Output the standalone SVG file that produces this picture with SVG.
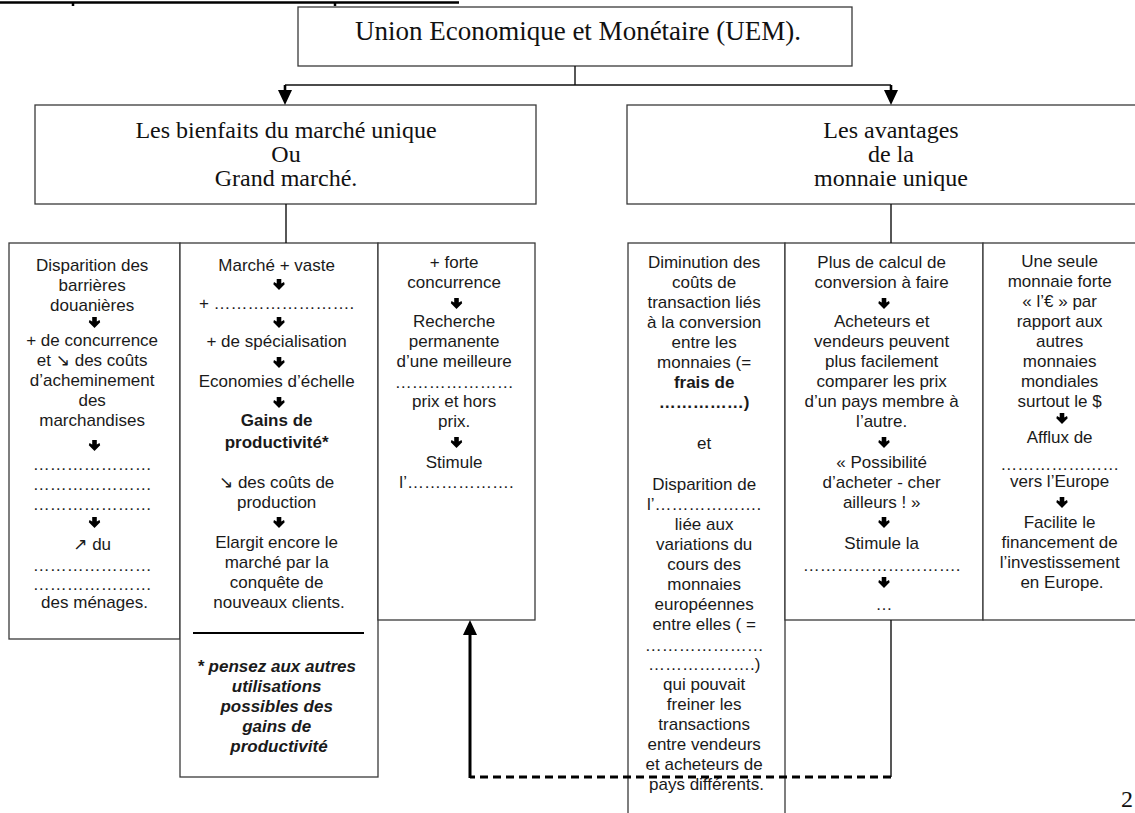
<svg xmlns="http://www.w3.org/2000/svg" xmlns:xlink="http://www.w3.org/1999/xlink" width="1135" height="813" viewBox="0 0 1135 813">
<style>
.bx{fill:#fff;stroke:#3a3a3a;stroke-width:1.3}
.t{font-family:"Liberation Sans",Arial,"DejaVu Sans",sans-serif;font-size:17px;fill:#1a1a1a;text-anchor:middle}
.b{font-weight:bold}
.bi{font-weight:bold;font-style:italic}
.h{font-family:"Liberation Serif","Times New Roman",serif;font-size:24px;fill:#111;text-anchor:middle}
.ttl{font-size:27px}
.ln{fill:none;stroke:#111;stroke-width:1.4}
.thk{fill:none;stroke:#000;stroke-width:2.6}
.dsh{fill:none;stroke:#000;stroke-width:3;stroke-dasharray:8 5}
</style>
<defs>
<path id="da" d="M-2.3,0H2.3V4.6L5,3.1L5.7,5.2L0,10.9L-5.7,5.2L-5,3.1L-2.3,4.6Z" fill="#000"/>
<marker id="ah" viewBox="0 0 15 14" refX="2" refY="7" markerWidth="15" markerHeight="14" orient="auto" markerUnits="userSpaceOnUse">
<path d="M0,0L15,7L0,14Z" fill="#000"/>
</marker>
</defs>
<rect width="1135" height="813" fill="#fff"/>

<g id="top-rule">
<path d="M0,2.5H459M73,2.5V6M335,2.5V6" fill="none" stroke="#000" stroke-width="2.5"/>
</g>

<g id="uem">
<rect class="bx" x="298" y="7" width="554" height="59"/>
<text class="h ttl" x="578" y="40">Union Economique et Monétaire (UEM).</text>
</g>

<g id="marche-unique">
<rect class="bx" x="35" y="105" width="501" height="99"/>
<text class="h"><tspan x="286" y="138">Les bienfaits du marché unique</tspan><tspan x="286" y="162">Ou</tspan><tspan x="286" y="186">Grand marché.</tspan></text>
</g>

<g id="monnaie-unique">
<rect class="bx" x="627" y="105" width="520" height="99"/>
<text class="h"><tspan x="891" y="138">Les avantages</tspan><tspan x="891" y="162">de la</tspan><tspan x="891" y="186">monnaie unique</tspan></text>
</g>

<g id="col-barrieres">
<rect class="bx" x="9" y="243" width="171" height="396"/>
<text class="t">
<tspan x="94.5" y="271">Disparition des</tspan>
<tspan x="94.5" y="291">barrières</tspan>
<tspan x="94.5" y="311">douanières</tspan>
<tspan x="94.5" y="346">+ de concurrence</tspan>
<tspan x="94.5" y="366">et ↘ des coûts</tspan>
<tspan x="94.5" y="386">d’acheminement</tspan>
<tspan x="94.5" y="406">des</tspan>
<tspan x="94.5" y="426">marchandises</tspan>
<tspan x="94.5" y="470">…………………</tspan>
<tspan x="94.5" y="490">…………………</tspan>
<tspan x="94.5" y="510">…………………</tspan>
<tspan x="94.5" y="550">↗ du</tspan>
<tspan x="94.5" y="571">…………………</tspan>
<tspan x="94.5" y="590">…………………</tspan>
<tspan x="94.5" y="608">des ménages.</tspan>
</text>
<use href="#da" xlink:href="#da" x="94.5" y="317"/>
<use href="#da" xlink:href="#da" x="94.5" y="440"/>
<use href="#da" xlink:href="#da" x="94.5" y="517"/>
</g>

<g id="col-marche-vaste">
<rect class="bx" x="180" y="243" width="198" height="534"/>
<text class="t">
<tspan x="279" y="271">Marché + vaste</tspan>
<tspan x="279" y="309">+ …………………….</tspan>
<tspan x="279" y="347">+ de spécialisation</tspan>
<tspan x="279" y="387">Economies d’échelle</tspan>
<tspan x="279" y="426" class="b">Gains de</tspan>
<tspan x="279" y="448" class="b">productivité*</tspan>
<tspan x="279" y="488">↘ des coûts de</tspan>
<tspan x="279" y="508">production</tspan>
<tspan x="279" y="548">Elargit encore le</tspan>
<tspan x="279" y="568">marché par la</tspan>
<tspan x="279" y="588">conquête de</tspan>
<tspan x="279" y="608">nouveaux clients.</tspan>
</text>
<use href="#da" xlink:href="#da" x="279" y="279"/>
<use href="#da" xlink:href="#da" x="279" y="317"/>
<use href="#da" xlink:href="#da" x="279" y="357"/>
<use href="#da" xlink:href="#da" x="279" y="397"/>
<use href="#da" xlink:href="#da" x="279" y="517"/>
<path d="M193,633H364" stroke="#000" stroke-width="2" fill="none"/>
<text class="t bi">
<tspan x="279" y="672">* pensez aux autres</tspan>
<tspan x="279" y="692">utilisations</tspan>
<tspan x="279" y="712">possibles des</tspan>
<tspan x="279" y="732">gains de</tspan>
<tspan x="279" y="752">productivité</tspan>
</text>
</g>

<g id="col-concurrence">
<rect class="bx" x="378" y="243" width="157" height="377"/>
<text class="t">
<tspan x="456.5" y="268">+ forte</tspan>
<tspan x="456.5" y="288">concurrence</tspan>
<tspan x="456.5" y="327">Recherche</tspan>
<tspan x="456.5" y="347">permanente</tspan>
<tspan x="456.5" y="367">d’une meilleure</tspan>
<tspan x="456.5" y="388">…………………</tspan>
<tspan x="456.5" y="407">prix et hors</tspan>
<tspan x="456.5" y="427">prix.</tspan>
<tspan x="456.5" y="468">Stimule</tspan>
<tspan x="456.5" y="488">l’……………….</tspan>
</text>
<use href="#da" xlink:href="#da" x="456.5" y="298"/>
<use href="#da" xlink:href="#da" x="456.5" y="437"/>
</g>

<g id="col-couts-transaction">
<rect class="bx" x="628" y="243" width="157" height="590"/>
<text class="t">
<tspan x="706.5" y="268">Diminution des</tspan>
<tspan x="706.5" y="288">coûts de</tspan>
<tspan x="706.5" y="308">transaction liés</tspan>
<tspan x="706.5" y="328">à la conversion</tspan>
<tspan x="706.5" y="348">entre les</tspan>
<tspan x="706.5" y="368">monnaies (=</tspan>
<tspan x="706.5" y="388" class="b">frais de</tspan>
<tspan x="706.5" y="408" class="b">……………)</tspan>
<tspan x="706.5" y="449">et</tspan>
<tspan x="706.5" y="490">Disparition de</tspan>
<tspan x="706.5" y="510">l’……………….</tspan>
<tspan x="706.5" y="530">liée aux</tspan>
<tspan x="706.5" y="550">variations du</tspan>
<tspan x="706.5" y="570">cours des</tspan>
<tspan x="706.5" y="590">monnaies</tspan>
<tspan x="706.5" y="610">européennes</tspan>
<tspan x="706.5" y="630">entre elles ( =</tspan>
<tspan x="706.5" y="651">…………………</tspan>
<tspan x="706.5" y="670">……………….)</tspan>
<tspan x="706.5" y="690">qui pouvait</tspan>
<tspan x="706.5" y="710">freiner les</tspan>
<tspan x="706.5" y="730">transactions</tspan>
<tspan x="706.5" y="750">entre vendeurs</tspan>
<tspan x="706.5" y="770">et acheteurs de</tspan>
<tspan x="706.5" y="790">pays différents.</tspan>
</text>
</g>

<g id="col-conversion">
<rect class="bx" x="785" y="243" width="198" height="377"/>
<text class="t">
<tspan x="884" y="268">Plus de calcul de</tspan>
<tspan x="884" y="288">conversion à faire</tspan>
<tspan x="884" y="327">Acheteurs et</tspan>
<tspan x="884" y="347">vendeurs peuvent</tspan>
<tspan x="884" y="367">plus facilement</tspan>
<tspan x="884" y="387">comparer les prix</tspan>
<tspan x="884" y="407">d’un pays membre à</tspan>
<tspan x="884" y="427">l’autre.</tspan>
<tspan x="884" y="468">« Possibilité</tspan>
<tspan x="884" y="488">d’acheter - cher</tspan>
<tspan x="884" y="508">ailleurs ! »</tspan>
<tspan x="884" y="549">Stimule la</tspan>
<tspan x="884" y="571">……………………….</tspan>
<tspan x="884" y="610">…</tspan>
</text>
<use href="#da" xlink:href="#da" x="884" y="298"/>
<use href="#da" xlink:href="#da" x="884" y="437"/>
<use href="#da" xlink:href="#da" x="884" y="517"/>
<use href="#da" xlink:href="#da" x="884" y="577"/>
</g>

<g id="col-monnaie-forte">
<rect class="bx" x="983" y="243" width="165" height="377"/>
<text class="t">
<tspan x="1062" y="267">Une seule</tspan>
<tspan x="1062" y="287">monnaie forte</tspan>
<tspan x="1062" y="307">« l’€ » par</tspan>
<tspan x="1062" y="327">rapport aux</tspan>
<tspan x="1062" y="347">autres</tspan>
<tspan x="1062" y="367">monnaies</tspan>
<tspan x="1062" y="387">mondiales</tspan>
<tspan x="1062" y="407">surtout le $</tspan>
<tspan x="1062" y="443">Afflux de</tspan>
<tspan x="1062" y="470">…………………</tspan>
<tspan x="1062" y="487">vers l’Europe</tspan>
<tspan x="1062" y="528">Facilite le</tspan>
<tspan x="1062" y="548">financement de</tspan>
<tspan x="1062" y="568">l’investissement</tspan>
<tspan x="1062" y="588">en Europe.</tspan>
</text>
<use href="#da" xlink:href="#da" x="1062" y="413"/>
<use href="#da" xlink:href="#da" x="1062" y="497"/>
</g>

<g id="page-number">
<text class="h" x="1121" y="807" style="text-anchor:start">2</text>
</g>

<g id="connectors">
<path class="ln" d="M575,66V85M285,85H891"/>
<path class="thk" d="M285,85V92" marker-end="url(#ah)"/>
<path class="thk" d="M891,85V92" marker-end="url(#ah)"/>
<path class="ln" d="M286,204V243M891,204V243"/>
<path class="ln" d="M891,620V777" stroke="#444"/>
<path class="dsh" d="M891,777H470"/>
<path d="M470,778V633" fill="none" stroke="#000" stroke-width="3" marker-end="url(#ah)"/>
</g>
</svg>
